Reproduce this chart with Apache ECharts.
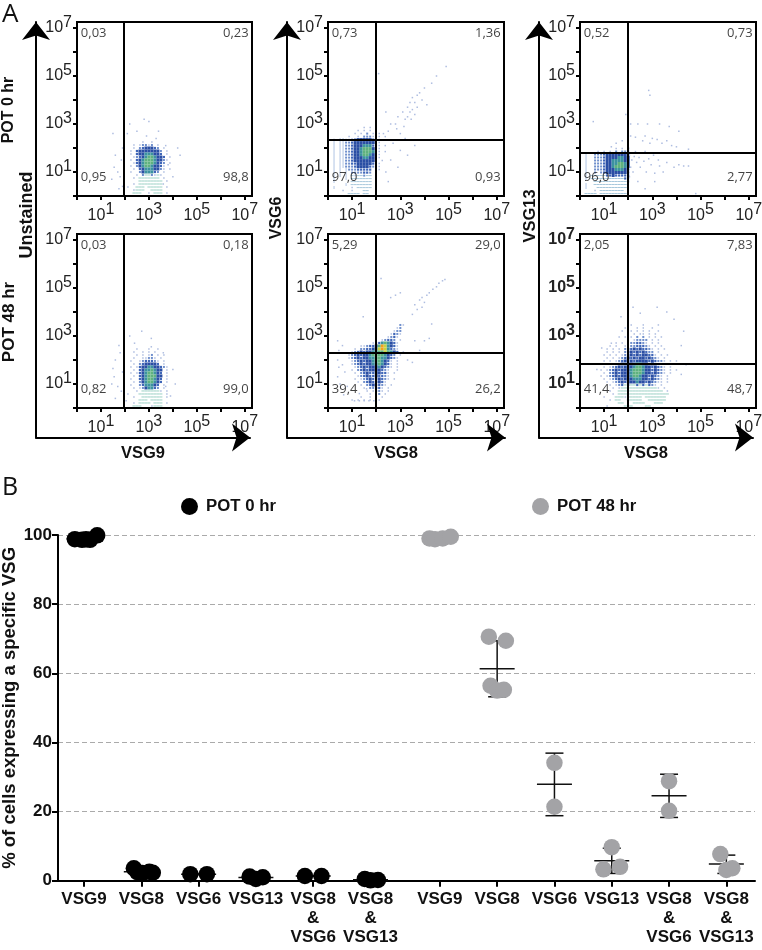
<!DOCTYPE html>
<html>
<head>
<meta charset="utf-8" />
<title>VSG expression</title>
<script src="https://cdn.jsdelivr.net/npm/echarts@6/dist/echarts.min.js"></script>
<style>
  html, body { margin: 0; padding: 0; background: #fff; }
  #chart { width: 762px; height: 950px; }
</style>
</head>
<body>
<div id="chart"></div>
<script>
// panel B
const groupNames = ["VSG9", "VSG8", "VSG6", "VSG13", "VSG8\n&\nVSG6", "VSG8\n&\nVSG13"];
const pot0Pos = [1, 2, 3, 4, 5, 6];
const pot48Pos = [7.21, 8.21, 9.21, 10.21, 11.21, 12.21];
const pot0Offsets = [
  [-0.16, -0.035, 0.035, 0.105, 0.23],
  [-0.13, -0.07, 0.02, 0.14, 0.2],
  [-0.145, 0.145],
  [-0.11, 0, 0.12],
  [-0.145, 0.145],
  [-0.1, 0, 0.13],
];
const pot0Values = [
  [98.8, 98.6, 98.75, 98.6, 99.9],
  [3.6, 2.5, 2.2, 2.6, 2.3],
  [1.9, 1.9],
  [1.2, 0.5, 1.0],
  [1.35, 1.35],
  [0.5, 0.1, 0.2],
];
const pot0Stats = [
  [99, 98.5, 99.5],
  [2.6, 2, 3.2],
  [1.9, 1.7, 2.1],
  [0.9, 0.5, 1.3],
  [1.35, 1.2, 1.5],
  [0.3, 0.1, 0.5],
];
const pot48Offsets = [
  [-0.18, -0.085, 0.05, 0.19],
  [-0.145, 0.152, -0.115, 0, 0.117],
  [0, 0],
  [0, -0.145, 0.145],
  [0, 0],
  [-0.105, 0, 0.105],
];
const pot48Values = [
  [99.0, 98.8, 99.0, 99.5],
  [70.6, 69.4, 56.4, 55.0, 55.2],
  [34.1, 21.4],
  [9.7, 3.3, 4.0],
  [28.8, 20.2],
  [7.7, 3.1, 3.6],
];
const pot48Stats = [
  [99.1, 98.8, 99.4],
  [61.3, 53.2, 69.4],
  [27.9, 18.8, 36.9],
  [5.8, 2.1, 9.4],
  [24.6, 18.3, 30.8],
  [4.8, 2.1, 7.4],
];

// panel A: density, 1/8 decade per character
// 1-8 = sparse to hot, a = arcs, h = horizontal streaks, v = vertical streaks
const cloudStep = 0.125;
const cloudOrigins = [[2, 2.25], [0.125, 2.85], [0.125, 1.98], [2, 2.46], [0.75, 3.46], [0.625, 3.46]];
const cloudMaps = [
  [
    "......1..1......",
    "...1.12212.1....",
    "...1.2344432.1..",
    "..1.344444442.1.",
    "..1.344555443.1.",
    "...12345665443.1",
    "..1.34566654421.",
    "...13456665432.1",
    "..1.2456654431..",
    "...1.345554421.1",
    "..1..2455532.1..",
    "....1.2aa21a1...",
    "...1.aaaaaaa.1..",
    ".....aaaaaaaa.1.",
    "...1.aaaaaaaa...",
    ".1..aaa.aaaaa.1.",
    "...1aaa..aaaa...",
    "...aaa..1.aaa.1.",
  ],
  [
    "...........1.1.....",
    ".........1.1.1.1...",
    "........1.1.2.1.1..",
    "......1..1.2221.1.1",
    ".1.vv1123444443.1..",
    ".v.vv2234444444.1..",
    ".v.vv2234445553.1.1",
    ".v.vv2234456664.1..",
    ".v.vv2234456665.1.1",
    ".v.vv2234456654.1..",
    ".v.vv2234445544.1..",
    ".v.vv2234444444..1.",
    ".v.vv2233444443.1..",
    ".v.vv2223444432.1..",
    ".v.v.v22233333..1..",
    ".v.v.v.2222332.....",
    ".v.v.v.h1hh2hh.1...",
    ".v...v.hhhhhhh.1...",
    ".v.....hhhhhhh.....",
    ".....v.hhhhhhh.....",
    ".v.....1.hhhhh.....",
    "....1..1...hh......",
    "......hhhh.hh......",
  ],
  [
    "...........1.1.2",
    ".....1.1.1.2.222",
    ".v..222344444443",
    ".v..222344445544",
    ".v..222344555544",
    ".v..222344556654",
    ".v..222344566654",
    ".v..222344455543",
    ".v..2.2344444443",
    ".v.hhhhh33433333",
    ".v.hhhhhhhhhhh32",
    "....hhhhhhhhhhh2",
    ".v..hhhhhhhhhhh1",
    ".v...hhhhhhhhhh.",
    "....1.hhhhhhhh..",
    ".hhhh.hhhhhhhhh.",
  ],
  [
    "....1...1..1....",
    "...1..1.1.1.....",
    "....1.1.12.1.1..",
    "...1..11221.1...",
    "..1..1233321.1..",
    "...1.2344443.1..",
    "..1.13445544321.",
    "...1.34556544.1.",
    "..1.134566543.1.",
    "...1.34566644.1.",
    "..1..34566543.1.",
    "...1.24566543.1.",
    "..1..2355543.1..",
    "...1.1245532.1..",
    "....1.aaaaaa1.1.",
    ".1...aaaaaaaa.1.",
    "...1..aaaaaaa.1.",
    ".....aaa.aaaa...",
    "...1.aaaa.aaa.1.",
    "...aaa...1aaa...",
  ],
  [
    "..................21",
    ".................12.",
    "................122.",
    "...............1321.",
    "..............1231..",
    "............12332.1.",
    ".........123565431..",
    ".....1123346875431..",
    "...1.2233457875321..",
    "..1234344556676543.1",
    ".1234344566665432.1.",
    ".12343445566554321..",
    "..12343445665431.1",
    "..12343445565431.1",
    "...1234344454321.1",
    "..1.23434444321..1",
    "...1.2343344331.1",
    "....12343343321",
    "...1.1234334321.1",
    "....1.23433431",
    ".....1.2343321.1",
    "......1.22331.1",
    ".......1.1221.1",
    "........1.12.1",
    ".....1..1.1.1",
    "..1.1.1.1..1",
  ],
  [
    "............1...1....1",
    "..........1...1.1..1....",
    ".........1..1.1.1.1..1",
    "...........1.1.11.1.1..",
    "........1.1.1.2.2.1.1.1",
    "...........1.12222.1.1..",
    ".......1.1.1223321.1.1",
    ".....1.1..1.2233321.1.1",
    "....1.1.1.2334343321.1.1",
    "....1.1.1.2343434322.1",
    "...1.1.1.123434344331.1.1",
    "....1.1.12343434434321.1",
    "...1.1.12343434444343221.1.1",
    "..1.1.12343444554434321.1.1",
    "...1.1234344456654434321.1",
    "..1.12343444566654434321.1.1",
    "...1.2343444566654434321.1",
    "..1.1234344456654434321.1",
    "...1.123434445554434321.1",
    "....1.12343444544343211.1",
    ".....1.123a3aa3a3a321.1",
    "......1.1aaaaaaaaaaaa1.1",
    ".....1..aaaaaaaaaaaaaaa.1",
    "......1.aaaaaaaaaaaaaaaaa",
    "...1...aaa1aaaaa.aaaaaaa",
    ".....1.aa..aaaaa..aaaaaa",
    "........aa...aaaa...aaa",
    "....1.....aaa....aa",
  ],
];
const sparsePoints = [
  [[1.55,1.2],[1.7,1.0],[1.8,0.8],[1.45,0.7],[1.75,0.3],[1.6,1.7],[1.85,1.5],[1.9,2.0],[1.5,2.6],[2.2,3.0],[2.8,3.2],[3.0,3.1],[2.5,2.7],[2.1,2.6],[2.9,2.5],[3.3,2.4],[3.7,2.1],[4.2,2.0],[3.8,1.3],[4.0,0.8],[4.3,1.7],[1.9,0.4],[3.6,0.5],[3.4,2.7]],
  [[2.3,2.6],[2.5,2.7],[2.6,3.0],[2.8,3.0],[2.9,3.3],[3.0,2.6],[3.1,3.5],[3.2,3.2],[3.3,3.7],[3.4,3.9],[3.5,3.6],[3.5,4.1],[3.6,3.9],[3.7,4.2],[3.8,4.3],[3.9,4.0],[4.0,4.5],[4.1,3.8],[3.3,3.3],[3.6,3.4],[2.4,3.5],[2.7,2.2],[3.2,2.4],[3.6,2.1],[3.0,1.9],[2.6,1.5],[2.9,1.2],[3.3,1.7],[2.4,1.0],[2.5,0.6],[4.9,5.4],[4.5,5.0],[4.3,4.7],[3.4,3.5],[3.7,3.7],[2.85,2.8],[3.15,2.9],[3.45,3.2],[2.1,5.1]],
  [[0.55,3.1],[1.9,3.4],[2.9,4.2],[2.85,4.4],[2.1,3.0],[2.4,3.0],[2.8,3.0],[3.3,3.0],[3.7,2.9],[4.1,2.7],[2.1,2.5],[2.3,2.45],[2.6,2.3],[2.7,2.5],[2.9,2.2],[3.0,2.4],[3.2,2.35],[3.4,2.2],[3.6,2.3],[3.8,2.1],[4.0,2.05],[4.5,1.95],[2.05,1.7],[2.15,1.5],[2.25,1.65],[2.35,1.4],[2.45,1.6],[2.5,1.2],[2.65,1.45],[2.75,1.0],[2.85,1.55],[2.95,1.3],[3.05,1.7],[3.1,0.95],[3.25,1.5],[3.3,1.25],[3.45,1.0],[3.6,1.4],[3.9,1.2],[4.1,1.3],[4.3,1.25],[4.5,1.25],[2.1,1.2],[2.2,1.0],[2.05,0.8],[2.4,0.6],[2.7,0.3],[3.1,0.6],[4.8,0.1],[2.3,1.85],[2.7,1.85],[3.3,1.8],[2.0,2.1],[1.75,2.3],[1.5,2.2],[1.3,2.05]],
  [[1.55,1.3],[1.7,0.9],[1.85,0.7],[1.45,1.0],[1.6,2.0],[1.8,2.3],[1.9,1.5],[2.2,3.0],[2.7,3.2],[3.1,2.9],[2.4,2.7],[3.6,2.3],[4.0,1.6],[4.1,1.0],[3.9,0.5],[3.7,0.9],[2.05,0.3],[1.6,0.4],[3.1,2.55],[1.5,1.65],[1.75,2.6]],
  [[3.6,4.3],[3.7,4.1],[3.8,4.5],[3.9,4.6],[4.0,4.4],[4.1,4.7],[4.2,4.8],[4.35,4.95],[4.5,5.05],[4.6,5.2],[4.75,5.3],[4.85,5.35],[3.9,4.2],[3.5,3.9],[2.2,5.4],[2.6,4.6],[3.0,4.8],[2.8,4.7],[1.46,3.8],[4.3,3.5],[0.4,2.8],[0.45,2.4],[0.4,2.0],[0.45,1.7],[0.4,1.3],[0.5,1.0],[0.6,2.6],[0.6,1.8],[0.7,1.5],[0.8,0.9],[0.65,0.55],[1.1,0.3],[1.3,0.3],[1.5,0.3],[1.7,0.3],[1.9,0.3],[1.3,0.6],[1.6,0.8],[3.6,2.8],[4.0,2.8],[4.2,2.9],[3.3,2.0],[3.5,1.9],[3.8,2.4]],
  [[1.3,2.7],[0.9,2.5],[0.7,1.6],[3.2,4.2],[3.6,4.0],[3.9,3.7],[4.3,3.2],[4.2,2.6],[4.4,1.8],[4.2,1.4],[2.2,4.2],[2.5,3.95],[1.7,3.8]],
];
const gateX = [1.93, 1.99, 1.97, 1.93, 1.99, 1.97];
const gateY = [null, 2.35, 1.82, null, 2.32, 1.83];
const quadLabels = [
  ["0,03", "0,23", "0,95", "98,8"],
  ["0,73", "1,36", "97,0", "0,93"],
  ["0,52", "0,73", "96,0", "2,77"],
  ["0,03", "0,18", "0,82", "99,0"],
  ["5,29", "29,0", "39,4", "26,2"],
  ["2,05", "7,83", "41,4", "48,7"],
];
const flowTicks = [0, 1, 2, 3, 4, 5, 6, 7];
const flowLabels = [1, 3, 5, 7];
const xNames = ["VSG9", "VSG8", "VSG8"];
const sideTexts = [
  ["POT 0 hr", 9, 110, 16],
  ["Unstained", 27, 215, 18],
  ["POT 48 hr", 9, 322, 17],
  ["VSG6", 277, 218, 16],
  ["VSG13", 530, 216, 16.5],
];

const levelColors = {
  1: "#aebde0", 2: "#6f8fcc", 3: "#3f66b8", 4: "#2a4ea4",
  5: "#3c93a0", 6: "#5fb27f", 7: "#c8d23c", 8: "#f0a020",
  a: "#9ad0c4", h: "#a8c8dc", v: "#b0c4e4",
};
const levelSizes = {
  1: 1.5, 2: 2, 3: 2.2, 4: 3, 5: 3, 6: 3, 7: 3, 8: 3,
  a: [3, 1], h: [3, 1], v: [1, 3],
};
const SANS = "Liberation Sans";
const colLeft = [77, 328, 580];
const colWidth = [175, 176, 176];
const rowTop = [22, 234];
const outerLeft = [36, 287, 539];
const outerRight = [250, 505, 753];

function cloudData(p) {
  const data = [];
  cloudMaps[p].forEach((row, r) => {
    row.split("").forEach((ch, i) => {
      if (ch !== ".") {
        data.push([cloudOrigins[p][0] + i * cloudStep, cloudOrigins[p][1] - r * cloudStep, ch]);
      }
    });
  });
  sparsePoints[p].forEach((pt) => data.push([pt[0], pt[1], "1"]));
  return data;
}

const grids = [];
const xAxes = [];
const yAxes = [];
const series = [];

function tenPower(value, bold) {
  return bold ? `{bb|10}{bs|${value}}` : `{b|10}{s|${value}}`;
}
const powerRich = {
  b: { fontSize: 16, fontFamily: SANS, color: "#222" },
  s: { fontSize: 16, fontFamily: SANS, color: "#222", padding: [0, 0, 11, 0] },
  bb: { fontSize: 16, fontFamily: SANS, color: "#222", fontWeight: "bold" },
  bs: { fontSize: 16, fontFamily: SANS, color: "#222", fontWeight: "bold", padding: [0, 0, 11, 0] },
};

for (let p = 0; p < 6; p++) {
  const col = p % 3;
  const row = Math.floor(p / 3);
  grids.push({
    left: colLeft[col], top: rowTop[row], width: colWidth[col], height: 174, outerBoundsMode: "none",
    show: true, borderColor: "#000", borderWidth: 2, backgroundColor: "transparent",
  });
  const tickStyle = {
    show: true, length: 4, customValues: flowTicks,
    lineStyle: { color: "#000", width: 2 },
  };
  xAxes.push({
    type: "value", gridIndex: p, min: 0, max: 7.3,
    axisLine: { show: false }, splitLine: { show: false },
    axisTick: tickStyle,
    axisLabel: { customValues: flowLabels, margin: 6, rich: powerRich, formatter: (v) => tenPower(v, false) },
  });
  yAxes.push({
    type: "value", gridIndex: p, min: 0, max: 7.25,
    axisLine: { show: false }, splitLine: { show: false },
    axisTick: tickStyle,
    axisLabel: { customValues: flowLabels, margin: 5, rich: powerRich, formatter: (v) => tenPower(v, p === 5) },
  });

  const gateLines = [{ xAxis: gateX[p] }];
  if (gateY[p] !== null) gateLines.push({ yAxis: gateY[p] });
  series.push({
    type: "scatter", xAxisIndex: p, yAxisIndex: p, animation: false, silent: true, z: 2,
    symbol: "rect",
    symbolSize: (v) => levelSizes[v[2]],
    itemStyle: { opacity: 1, color: (d) => levelColors[d.value[2]] },
    data: cloudData(p),
    markLine: {
      silent: true, symbol: "none", animation: false, precision: 3,
      label: { show: false },
      lineStyle: { color: "#000", width: 2, type: "solid" },
      data: gateLines,
    },
  });
  // labels sit in the four corners of the plot
  const q = quadLabels[p];
  const corner = (x, y, text, position) => ({
    value: [x, y],
    label: { show: true, formatter: text, position, distance: 0, color: "#111", fontFamily: "Open Sans", fontSize: 13 },
  });
  series.push({
    type: "scatter", xAxisIndex: p, yAxisIndex: p, animation: false, silent: true, z: 5,
    symbolSize: 0,
    data: [
      corner(0.16, 6.78, q[0], "right"),
      corner(7.16, 6.78, q[1], "left"),
      corner(0.16, 0.76, q[2], "right"),
      corner(7.16, 0.76, q[3], "left"),
    ],
  });
}

// long arrows round each column of plots
for (let c = 0; c < 3; c++) {
  const g = grids.length;
  grids.push({ left: outerLeft[c], top: 22, right: 762 - outerRight[c], bottom: 950 - 437.5, outerBoundsMode: "none" });
  xAxes.push({
    type: "value", gridIndex: g, min: 0, max: 1, show: true,
    axisTick: { show: false }, axisLabel: { show: false }, splitLine: { show: false },
    axisLine: { onZero: false, symbol: ["none", "arrow"], symbolSize: [21, 18], lineStyle: { color: "#000", width: 2 } },
    name: xNames[c], nameLocation: "middle", nameGap: 7,
    nameTextStyle: { fontFamily: SANS, fontWeight: "bold", fontSize: 16.5, color: "#111" },
  });
  yAxes.push({
    type: "value", gridIndex: g, min: 0, max: 1,
    axisTick: { show: false }, axisLabel: { show: false }, splitLine: { show: false },
    axisLine: { onZero: false, symbol: ["none", "arrow"], symbolSize: [21, 18], lineStyle: { color: "#000", width: 2 } },
  });
}

// panel B
const bIdx = grids.length;
const bPos = pot0Pos.concat(pot48Pos);
grids.push({ left: 58, right: 7, top: 535, bottom: 69.3, outerBoundsMode: "none" });
xAxes.push({
  type: "value", gridIndex: bIdx, min: 0.546, max: 12.71,
  axisLine: { onZero: false, lineStyle: { color: "#000", width: 2 } },
  splitLine: { show: false },
  axisTick: { customValues: bPos, length: 6, lineStyle: { color: "#000", width: 2 } },
  axisLabel: {
    customValues: bPos, margin: 9, interval: 0,
    fontFamily: SANS, fontWeight: "bold", fontSize: 17, lineHeight: 19, color: "#111",
    formatter: (v) => groupNames[bPos.indexOf(v) % 6],
  },
});
yAxes.push({
  type: "value", gridIndex: bIdx, min: 0, max: 100, interval: 20,
  axisLine: { onZero: false, lineStyle: { color: "#000", width: 2 } },
  axisTick: { length: 6, lineStyle: { color: "#000", width: 2 } },
  axisLabel: { margin: 6, fontFamily: SANS, fontWeight: "bold", fontSize: 17, color: "#111" },
  splitLine: { lineStyle: { color: "#aaa", type: [5, 3], width: 1 } },
  name: "% of cells expressing a specific VSG", nameLocation: "middle", nameRotate: 90, nameGap: 39, nameMoveOverlap: false,
  nameTextStyle: { fontFamily: SANS, fontWeight: "bold", fontSize: 18.5, color: "#111" },
});

function swarm(positions, offsets, values) {
  const data = [];
  positions.forEach((x, g) => {
    values[g].forEach((v, i) => data.push([x + offsets[g][i], v]));
  });
  return data;
}

function statBars(positions, stats) {
  return {
    type: "custom", xAxisIndex: bIdx, yAxisIndex: bIdx, animation: false, silent: true, z: 3, clip: false,
    data: positions.map((x, g) => [x, stats[g][0], stats[g][1], stats[g][2]]),
    renderItem: (params, api) => {
      const x = api.value(0);
      const mid = api.coord([x, api.value(1)]);
      const lo = api.coord([x, api.value(2)]);
      const hi = api.coord([x, api.value(3)]);
      const seg = (x1, y1, x2, y2) => ({
        type: "line",
        shape: { x1, y1, x2, y2 },
        style: { stroke: "#111", lineWidth: 1.5 },
      });
      return {
        type: "group",
        children: [
          seg(mid[0] - 17.5, mid[1], mid[0] + 17.5, mid[1]),
          seg(lo[0], lo[1], hi[0], hi[1]),
          seg(lo[0] - 9, lo[1], lo[0] + 9, lo[1]),
          seg(hi[0] - 9, hi[1], hi[0] + 9, hi[1]),
        ],
      };
    },
  };
}

series.push(statBars(pot0Pos, pot0Stats));
series.push(statBars(pot48Pos, pot48Stats));
series.push({
  name: "POT 0 hr", type: "scatter", xAxisIndex: bIdx, yAxisIndex: bIdx, animation: false, z: 4, clip: false,
  symbolSize: 16.5, itemStyle: { color: "#000", opacity: 1 },
  data: swarm(pot0Pos, pot0Offsets, pot0Values),
});
series.push({
  name: "POT 48 hr", type: "scatter", xAxisIndex: bIdx, yAxisIndex: bIdx, animation: false, z: 4, clip: false,
  symbolSize: 16.5, itemStyle: { color: "#a3a3a6", opacity: 1 },
  data: swarm(pot48Pos, pot48Offsets, pot48Values),
});

function legendAt(name, left) {
  return {
    data: [name], left, top: 493, icon: "circle", itemWidth: 17, itemHeight: 17, selectedMode: false,
    textStyle: { fontFamily: SANS, fontWeight: "bold", fontSize: 16.8, color: "#111", padding: [0, 0, 0, 3] },
  };
}

const graphics = [
  { type: "text", x: 2, y: 2, style: { text: "A", font: "26px 'Open Sans'", fill: "#111" } },
  { type: "text", x: 2, y: 475, style: { text: "B", font: "25px 'Open Sans'", fill: "#111" } },
].concat(sideTexts.map((t) => ({
  type: "text", x: t[1], y: t[2], rotation: Math.PI / 2,
  style: { text: t[0], font: `bold ${t[3]}px '${SANS}'`, fill: "#111", align: "center", verticalAlign: "middle" },
})));

const chart = echarts.init(document.getElementById("chart"));
chart.setOption({
  animation: false,
  backgroundColor: "#fff",
  grid: grids,
  xAxis: xAxes,
  yAxis: yAxes,
  legend: [legendAt("POT 0 hr", 176), legendAt("POT 48 hr", 527)],
  graphic: graphics,
  series,
});
</script>
</body>
</html>
